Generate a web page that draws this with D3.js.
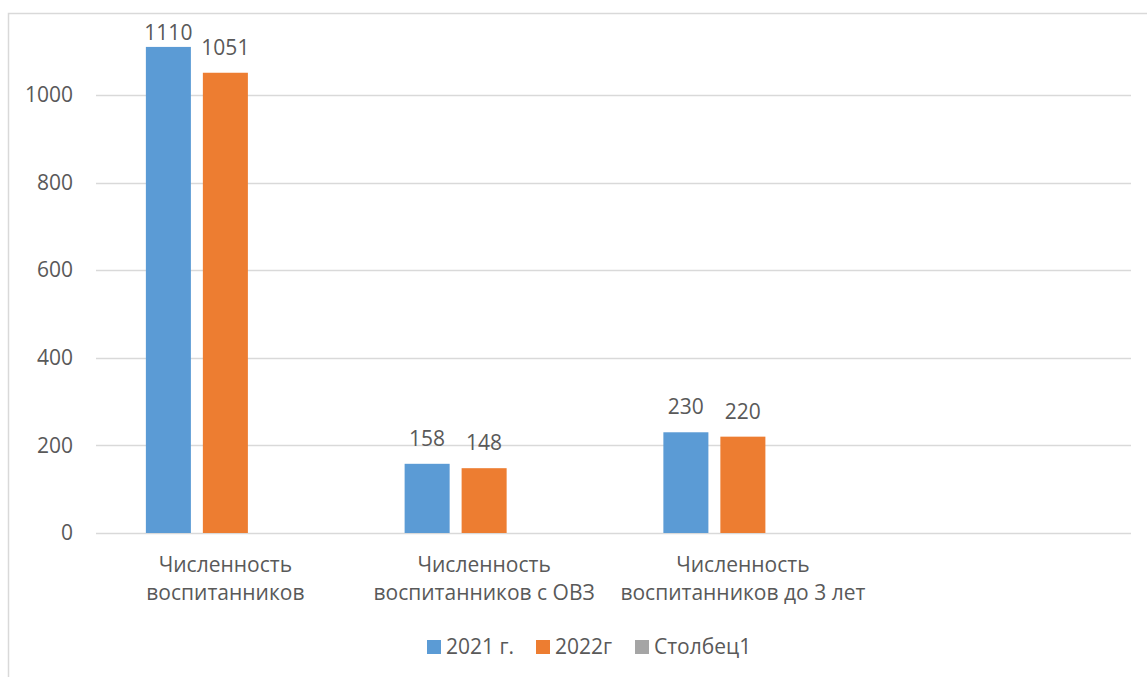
<!DOCTYPE html>
<html>
<head>
<meta charset="utf-8">
<script src="https://cdn.jsdelivr.net/npm/d3@7"></script>
<style>
  body { margin: 0; background: #fff; }
  svg text { font-family: "Open Sans", "Noto Sans", sans-serif; fill: #595959; }
</style>
</head>
<body>
<div id="chart"></div>
<script>
// Chart data
const categories = ['Численность воспитанников', 'Численность воспитанников с ОВЗ', 'Численность воспитанников до 3 лет', ''];
const seriesNames = ['2021 г.', '2022г', 'Столбец1'];
const values2021 = [1110, 158, 230, null];
const values2022 = [1051, 148, 220, null];
const valuesCol1 = [null, null, null, null];
const yTicks = [0, 200, 400, 600, 800, 1000];

const colors = ['#5B9BD5', '#ED7D31', '#A5A5A5'];
const seriesValues = [values2021, values2022, valuesCol1];

const width = 1147, height = 677;
const margin = { top: 7.5, right: 16, bottom: 144, left: 96 };
const fontSize = 21;

const svg = d3.select('#chart')
  .append('svg')
  .attr('width', width)
  .attr('height', height);

// Chart border
svg.append('rect')
  .attr('x', 8.5).attr('y', 13.5)
  .attr('width', 1300).attr('height', 800)
  .attr('fill', 'none')
  .attr('stroke', '#d9d9d9')
  .attr('stroke-width', 1.5);

const x0 = d3.scaleBand().domain(categories.map((c, i) => i)).range([margin.left, width - margin.right]);
const x1 = d3.scaleBand().domain(seriesNames).range([0, x0.bandwidth()]).paddingInner(0.21).paddingOuter(0.875);
const y = d3.scaleLinear().domain([0, 1200]).range([height - margin.bottom, margin.top]);

// Gridlines
svg.append('g')
  .selectAll('line')
  .data(yTicks)
  .join('line')
  .attr('x1', margin.left)
  .attr('x2', width - margin.right)
  .attr('y1', d => Math.round(y(d)) + 0.5)
  .attr('y2', d => Math.round(y(d)) + 0.5)
  .attr('stroke', '#d9d9d9')
  .attr('stroke-width', 1.5);

// Y axis labels
const yAxis = g => g
  .attr('transform', `translate(${margin.left - 23}, 0)`)
  .call(d3.axisLeft(y).tickValues(yTicks).tickFormat(d3.format('d')).tickSize(0).tickPadding(0))
  .call(g => g.select('.domain').remove())
  .call(g => g.attr('font-size', null).attr('font-family', null))
  .call(g => g.selectAll('text').style('font-size', fontSize + 'px').attr('fill', '#595959'));
svg.append('g').call(yAxis);

// Bars
const rows = [];
categories.forEach((c, i) => {
  seriesNames.forEach((s, j) => {
    if (seriesValues[j][i] != null) rows.push({ cat: i, series: s, value: seriesValues[j][i], color: colors[j] });
  });
});

svg.selectAll('.bar')
  .data(rows)
  .join('rect')
  .attr('class', 'bar')
  .attr('x', d => x0(d.cat) + x1(d.series))
  .attr('y', d => y(d.value))
  .attr('width', x1.bandwidth())
  .attr('height', d => y(0) - y(d.value))
  .attr('fill', d => d.color);

// value labels sit above the bars, kept inside the chart area
svg.selectAll('.value-label')
  .data(rows)
  .join('text')
  .attr('class', 'value-label')
  .attr('x', d => x0(d.cat) + x1(d.series) + x1.bandwidth() / 2)
  .attr('y', d => Math.max(y(d.value) - 18, 40))
  .attr('text-anchor', 'middle')
  .style('font-size', fontSize + 'px')
  .text(d => d.value);

// Category labels, wrapped to the band width
const catLabels = svg.append('g')
  .selectAll('text')
  .data(categories)
  .join('text')
  .attr('text-anchor', 'middle')
  .style('font-size', fontSize + 'px')
  .attr('x', (d, i) => x0(i) + x0.bandwidth() / 2)
  .attr('y', 572);

catLabels.each(function(d, i) {
  const text = d3.select(this);
  const words = d.split(' ').filter(w => w);
  let line = [];
  let tspan = text.append('tspan').attr('x', x0(i) + x0.bandwidth() / 2).attr('dy', 0);
  words.forEach(w => {
    line.push(w);
    tspan.text(line.join(' '));
    if (tspan.node().getComputedTextLength() > x0.bandwidth() - 4 && line.length > 1) {
      line.pop();
      tspan.text(line.join(' '));
      line = [w];
      tspan = text.append('tspan').attr('x', x0(i) + x0.bandwidth() / 2).attr('dy', 28).text(w);
    }
  });
});

// Legend
const legendX = [427, 536, 635];
const legend = svg.append('g')
  .selectAll('g')
  .data(seriesNames)
  .join('g')
  .attr('transform', (d, i) => `translate(${legendX[i]}, 640)`);

legend.append('rect')
  .attr('width', 14).attr('height', 14)
  .attr('fill', (d, i) => colors[i]);

legend.append('text')
  .attr('x', 19)
  .attr('y', 7)
  .attr('dy', '0.35em')
  .style('font-size', fontSize + 'px')
  .text(d => d);
</script>
</body>
</html>
